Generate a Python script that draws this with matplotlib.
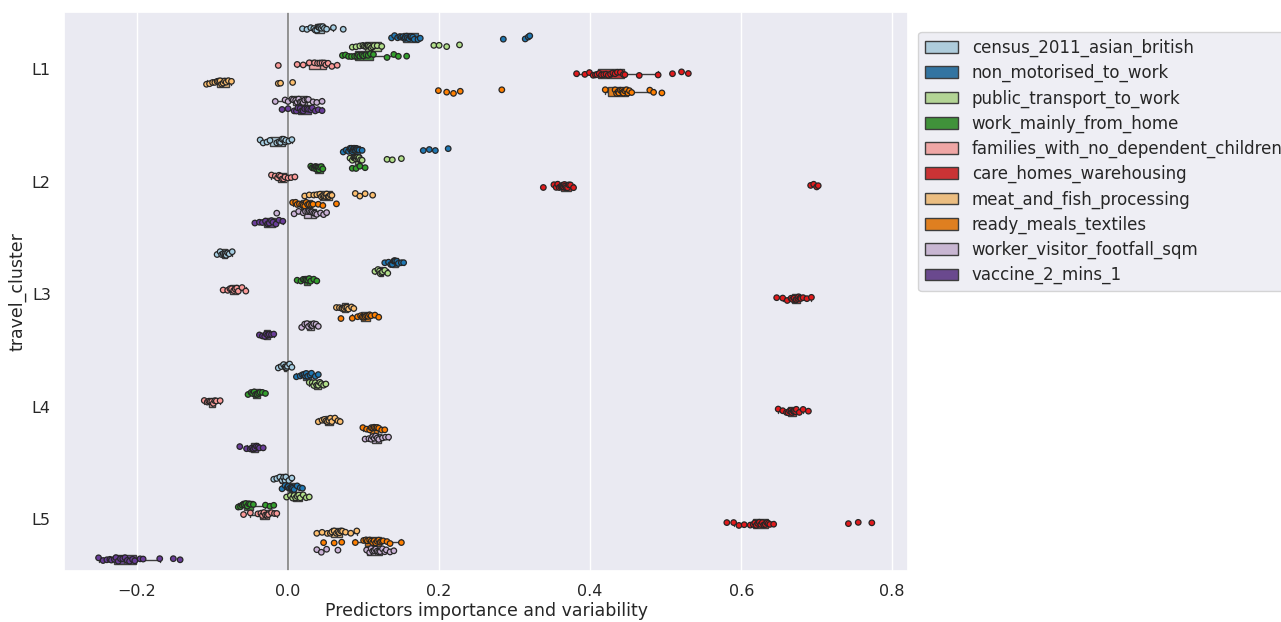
import numpy as np
import pandas as pd
import matplotlib
matplotlib.use("Agg")
import matplotlib.pyplot as plt
import seaborn as sns

clusters = ["L1", "L2", "L3", "L4", "L5"]
variables = [
    "census_2011_asian_british", "non_motorised_to_work", "public_transport_to_work",
    "work_mainly_from_home", "families_with_no_dependent_children", "care_homes_warehousing",
    "meat_and_fish_processing", "ready_meals_textiles", "worker_visitor_footfall_sqm",
    "vaccine_2_mins_1",
]

# values per cluster (L1..L5) for each predictor
census_2011_asian_british = [
    [0.019, 0.025, 0.030, 0.034, 0.036, 0.038, 0.040, 0.041, 0.043, 0.044, 0.046, 0.048, 0.051, 0.060, 0.073],
    [-0.037, -0.033, -0.028, -0.024, -0.015, -0.012, -0.010, -0.008, -0.006, -0.004, -0.003, 0.001, 0.005],
    [-0.094, -0.090, -0.088, -0.086, -0.084, -0.083, -0.082, -0.080, -0.078, -0.074],
    [-0.013, -0.009, -0.006, -0.004, -0.003, -0.002, -0.001, 0.002, 0.005],
    [-0.019, -0.015, -0.011, -0.008, -0.006, -0.004, -0.003, 0.001, 0.005],
]
non_motorised_to_work = [
    [0.137, 0.141, 0.145, 0.148, 0.150, 0.152, 0.154, 0.155, 0.157, 0.158, 0.160, 0.162, 0.163, 0.165, 0.167, 0.172, 0.175, 0.285, 0.314, 0.318, 0.320],
    [0.073, 0.077, 0.080, 0.082, 0.083, 0.084, 0.085, 0.086, 0.087, 0.088, 0.089, 0.090, 0.091, 0.092, 0.094, 0.098, 0.179, 0.187, 0.195, 0.212],
    [0.128, 0.133, 0.136, 0.138, 0.140, 0.141, 0.142, 0.144, 0.146, 0.150, 0.153],
    [0.011, 0.016, 0.019, 0.021, 0.023, 0.024, 0.026, 0.029, 0.031, 0.036, 0.040],
    [-0.008, -0.004, -0.001, 0.000, 0.002, 0.004, 0.005, 0.006, 0.008, 0.012, 0.016, 0.019],
]
public_transport_to_work = [
    [0.085, 0.090, 0.095, 0.099, 0.101, 0.103, 0.105, 0.106, 0.108, 0.110, 0.112, 0.114, 0.118, 0.124, 0.193, 0.200, 0.210, 0.227],
    [0.082, 0.085, 0.087, 0.088, 0.089, 0.090, 0.091, 0.092, 0.093, 0.094, 0.096, 0.098, 0.131, 0.138, 0.150],
    [0.115, 0.119, 0.121, 0.122, 0.124, 0.125, 0.128, 0.132],
    [0.028, 0.032, 0.034, 0.036, 0.038, 0.040, 0.042, 0.044, 0.047, 0.050],
    [-0.002, 0.003, 0.006, 0.008, 0.010, 0.012, 0.014, 0.016, 0.020, 0.024, 0.028],
]
work_mainly_from_home = [
    [0.072, 0.076, 0.080, 0.084, 0.088, 0.091, 0.093, 0.095, 0.098, 0.100, 0.103, 0.106, 0.109, 0.113, 0.131, 0.140, 0.146, 0.157],
    [0.030, 0.032, 0.034, 0.035, 0.036, 0.037, 0.038, 0.039, 0.040, 0.041, 0.042, 0.044, 0.046, 0.085, 0.090, 0.095, 0.102],
    [0.012, 0.017, 0.020, 0.022, 0.024, 0.026, 0.028, 0.030, 0.034, 0.038],
    [-0.053, -0.049, -0.047, -0.045, -0.043, -0.041, -0.039, -0.037, -0.034, -0.030],
    [-0.066, -0.063, -0.061, -0.059, -0.058, -0.056, -0.054, -0.052, -0.050, -0.046, -0.030, -0.024, -0.019],
]
families_with_no_dependent_children = [
    [-0.013, 0.012, 0.020, 0.028, 0.035, 0.039, 0.042, 0.045, 0.048, 0.050, 0.053, 0.058, 0.065],
    [-0.022, -0.017, -0.014, -0.012, -0.010, -0.008, -0.006, -0.004, 0.000, 0.004, 0.009],
    [-0.086, -0.080, -0.077, -0.075, -0.072, -0.070, -0.068, -0.066, -0.061, -0.056],
    [-0.111, -0.107, -0.105, -0.103, -0.101, -0.099, -0.097, -0.095, -0.090],
    [-0.059, -0.050, -0.040, -0.036, -0.034, -0.032, -0.030, -0.028, -0.026, -0.022, -0.018, -0.015],
]
care_homes_warehousing = [
    [0.382, 0.393, 0.399, 0.404, 0.407, 0.409, 0.412, 0.415, 0.418, 0.421, 0.424, 0.427, 0.430, 0.433, 0.436, 0.440, 0.444, 0.446, 0.465, 0.490, 0.509, 0.521, 0.530],
    [0.338, 0.352, 0.355, 0.357, 0.359, 0.361, 0.362, 0.363, 0.364, 0.365, 0.366, 0.367, 0.368, 0.370, 0.372, 0.374, 0.378, 0.692, 0.696, 0.700, 0.702],
    [0.647, 0.655, 0.661, 0.666, 0.668, 0.670, 0.672, 0.673, 0.675, 0.676, 0.678, 0.679, 0.682, 0.687, 0.693],
    [0.649, 0.655, 0.660, 0.662, 0.664, 0.666, 0.667, 0.669, 0.670, 0.672, 0.673, 0.677, 0.682, 0.689],
    [0.581, 0.590, 0.597, 0.604, 0.612, 0.616, 0.618, 0.620, 0.622, 0.624, 0.626, 0.628, 0.630, 0.632, 0.634, 0.636, 0.638, 0.643, 0.742, 0.755, 0.773],
]
meat_and_fish_processing = [
    [-0.108, -0.104, -0.100, -0.097, -0.094, -0.092, -0.090, -0.088, -0.086, -0.084, -0.082, -0.079, -0.075, -0.013, -0.010, 0.006],
    [0.022, 0.028, 0.034, 0.038, 0.042, 0.044, 0.046, 0.048, 0.050, 0.051, 0.053, 0.054, 0.056, 0.058, 0.089, 0.095, 0.102, 0.112],
    [0.064, 0.068, 0.071, 0.072, 0.074, 0.076, 0.078, 0.080, 0.084, 0.087],
    [0.040, 0.045, 0.048, 0.050, 0.052, 0.054, 0.056, 0.058, 0.062, 0.066, 0.069],
    [0.038, 0.045, 0.052, 0.056, 0.058, 0.061, 0.064, 0.066, 0.068, 0.070, 0.072, 0.076, 0.083, 0.091],
]
ready_meals_textiles = [
    [0.199, 0.210, 0.219, 0.228, 0.283, 0.420, 0.433, 0.435, 0.437, 0.438, 0.440, 0.442, 0.443, 0.444, 0.446, 0.448, 0.450, 0.452, 0.455, 0.479, 0.484, 0.495],
    [0.006, 0.010, 0.012, 0.015, 0.018, 0.020, 0.022, 0.024, 0.026, 0.028, 0.031, 0.033, 0.040, 0.046, 0.064],
    [0.070, 0.085, 0.092, 0.096, 0.098, 0.100, 0.102, 0.104, 0.106, 0.108, 0.110, 0.115, 0.120],
    [0.099, 0.104, 0.108, 0.110, 0.112, 0.114, 0.116, 0.118, 0.120, 0.124, 0.128],
    [0.047, 0.061, 0.071, 0.089, 0.100, 0.103, 0.105, 0.108, 0.110, 0.112, 0.114, 0.116, 0.118, 0.120, 0.122, 0.124, 0.126, 0.131, 0.135, 0.150],
]
worker_visitor_footfall_sqm = [
    [-0.017, -0.004, 0.000, 0.005, 0.007, 0.010, 0.012, 0.014, 0.016, 0.018, 0.020, 0.022, 0.025, 0.027, 0.033, 0.038, 0.045],
    [-0.015, 0.008, 0.014, 0.020, 0.023, 0.026, 0.028, 0.030, 0.032, 0.034, 0.036, 0.038, 0.043, 0.047, 0.051],
    [0.018, 0.022, 0.025, 0.027, 0.030, 0.032, 0.034, 0.037, 0.040],
    [0.102, 0.107, 0.110, 0.112, 0.114, 0.116, 0.118, 0.120, 0.125, 0.129, 0.133],
    [0.038, 0.044, 0.051, 0.066, 0.104, 0.108, 0.110, 0.112, 0.114, 0.116, 0.118, 0.120, 0.122, 0.125, 0.128, 0.130, 0.135, 0.140],
]
vaccine_2_mins_1 = [
    [-0.008, 0.000, 0.008, 0.011, 0.013, 0.016, 0.018, 0.020, 0.022, 0.025, 0.027, 0.030, 0.032, 0.036, 0.040, 0.045],
    [-0.044, -0.038, -0.034, -0.030, -0.027, -0.025, -0.022, -0.020, -0.016, -0.012, -0.007],
    [-0.038, -0.034, -0.031, -0.029, -0.027, -0.025, -0.022, -0.019],
    [-0.064, -0.055, -0.050, -0.048, -0.046, -0.044, -0.042, -0.040, -0.038, -0.033],
    [-0.251, -0.245, -0.240, -0.236, -0.234, -0.230, -0.228, -0.225, -0.222, -0.219, -0.216, -0.213, -0.210, -0.206, -0.203, -0.196, -0.192, -0.170, -0.152, -0.143],
]

series = [
    census_2011_asian_british, non_motorised_to_work, public_transport_to_work,
    work_mainly_from_home, families_with_no_dependent_children, care_homes_warehousing,
    meat_and_fish_processing, ready_meals_textiles, worker_visitor_footfall_sqm,
    vaccine_2_mins_1,
]

rows = []
for var, per_cluster in zip(variables, series):
    for cl, vals in zip(clusters, per_cluster):
        for v in vals:
            rows.append((cl, var, v))
df = pd.DataFrame(rows, columns=["travel_cluster", "variable", "value"])

sns.set_theme(style="darkgrid")
plt.rcParams["font.family"] = ["DejaVu Sans"]
plt.rcParams["xtick.labelsize"] = 11.5
plt.rcParams["ytick.labelsize"] = 11.5
plt.rcParams["axes.labelsize"] = 12.5
plt.rcParams["legend.fontsize"] = 12
np.random.seed(3)

fig = plt.figure(figsize=(12.81, 6.22), dpi=100)
ax = fig.add_axes([0.05, 0.082, 0.659, 0.8987])

sns.boxplot(data=df, x="value", y="travel_cluster", hue="variable",
            order=clusters, hue_order=variables, palette="Paired",
            orient="h", showfliers=False, linewidth=1, ax=ax)
sns.stripplot(data=df, x="value", y="travel_cluster", hue="variable",
              order=clusters, hue_order=variables, palette="Paired",
              orient="h", dodge=True, jitter=0.18, size=4.0, linewidth=0.9,
              edgecolor="0.15", legend=False, ax=ax)

ax.axvline(0, color="grey", linewidth=1.2)
ax.set_xlim(-0.2967, 0.8212)
ax.set_ylim(4.462, -0.507)
ax.grid(False, axis="y")
ax.set_xlabel("Predictors importance and variability", labelpad=2)
ax.set_ylabel("travel_cluster")

handles, labels = ax.get_legend_handles_labels()
ax.legend(handles[:10], labels[:10], loc="upper left",
          bbox_to_anchor=(1.012, 0.964), borderaxespad=0,
          labelspacing=0.42, handlelength=2.0)

fig.savefig("out.png", dpi=100)
